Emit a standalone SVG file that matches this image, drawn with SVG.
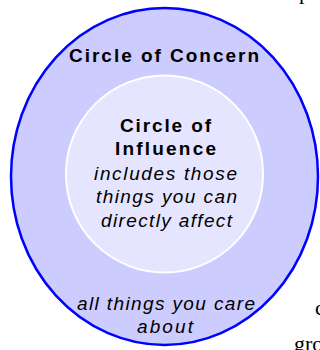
<svg xmlns="http://www.w3.org/2000/svg" width="320" height="350" viewBox="0 0 320 350">
  <style>
    .title { font-family: "Liberation Sans", Arial, sans-serif; font-weight: bold; font-size: 19px; fill: #000; text-anchor: middle; }
    .note { font-family: "Liberation Sans", Arial, sans-serif; font-style: italic; font-size: 19px; fill: #000; text-anchor: middle; }
    .page { font-family: "Liberation Serif", "Times New Roman", serif; font-size: 22px; fill: #000; }
  </style>
  <rect width="320" height="350" fill="#ffffff"/>

  <!-- surrounding page text, clipped at the edges -->
  <g id="page-text">
    <text class="page" x="299" y="-1">p</text>
    <text class="page" x="315" y="315">c</text>
    <text class="page" x="294" y="351">gro</text>
  </g>

  <!-- outer circle -->
  <g id="circle-of-concern">
    <ellipse cx="164.5" cy="176.5" rx="153.5" ry="168.5" fill="#ccccff" stroke="#0000ff" stroke-width="2.5"/>
    <text class="title" x="164" y="62" textLength="190" lengthAdjust="spacing">Circle of Concern</text>
    <text class="note" x="166" y="310" textLength="178" lengthAdjust="spacing">all things you care</text>
    <text class="note" x="165" y="333" textLength="56" lengthAdjust="spacing">about</text>
  </g>

  <!-- inner circle -->
  <g id="circle-of-influence">
    <circle cx="164.5" cy="174" r="98.5" fill="#e5e5ff" stroke="#ffffff" stroke-width="2"/>
    <text class="title" x="165.5" y="132" textLength="91" lengthAdjust="spacing">Circle of</text>
    <text class="title" x="165.5" y="155" textLength="101" lengthAdjust="spacing">Influence</text>
    <text class="note" x="165.5" y="180" textLength="143" lengthAdjust="spacing">includes those</text>
    <text class="note" x="166.5" y="203" textLength="141" lengthAdjust="spacing">things you can</text>
    <text class="note" x="166.5" y="227" textLength="131" lengthAdjust="spacing">directly affect</text>
  </g>
</svg>
